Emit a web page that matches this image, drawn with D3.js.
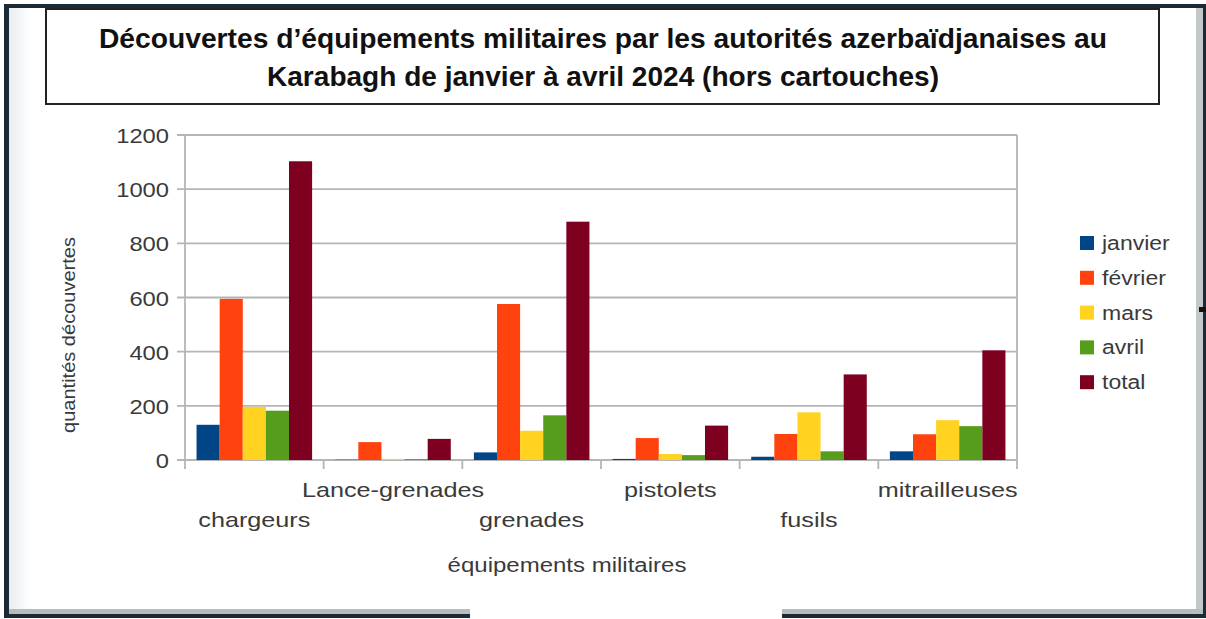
<!DOCTYPE html>
<html>
<head>
<meta charset="utf-8">
<script src="https://cdn.jsdelivr.net/npm/d3@7"></script>
<style>
  body { margin: 0; background: #fff; }
  text { font-family: "Liberation Sans", Arial, sans-serif; }
</style>
</head>
<body>
<div id="chart"></div>
<script>
// Data
const categories = ["chargeurs", "Lance-grenades", "grenades", "pistolets", "fusils", "mitrailleuses"];
const series = ["janvier", "février", "mars", "avril", "total"];
const janvier = [130, 1, 28, 4, 12, 32];
const fevrier = [595, 66, 576, 81, 96, 95];
const mars = [196, 4, 108, 22, 176, 147];
const avril = [182, 3, 165, 18, 32, 125];
const total = [1103, 78, 880, 127, 316, 405];
const yTicks = [0, 200, 400, 600, 800, 1000, 1200];
const colors = ["#004586", "#ff420e", "#ffd320", "#579d1c", "#7e0021"];
const titleLines = [
    "Découvertes d’équipements militaires par les autorités azerbaïdjanaises au",
    "Karabagh de janvier à avril 2024 (hors cartouches)"
];

const values = [janvier, fevrier, mars, avril, total];
const rows = categories.map((c, i) => ({
    cat: c,
    vals: series.map((s, j) => ({ key: s, value: values[j][i] }))
}));

const width = 1206, height = 619;
const svg = d3.select("#chart").append("svg")
    .attr("width", width)
    .attr("height", height);

// stretch text horizontally (the source picture is a bit widened)
function stretch(sel, k) {
    sel.each(function () {
        const w = this.getComputedTextLength();
        this.setAttribute("textLength", w * k);
        this.setAttribute("lengthAdjust", "spacingAndGlyphs");
    });
}

// ---- screenshot frame ----
const defs = svg.append("defs");
const grad = defs.append("linearGradient").attr("id", "shadeL").attr("x1", 0).attr("x2", 1);
grad.append("stop").attr("offset", 0).attr("stop-color", "#e9edf0");
grad.append("stop").attr("offset", 1).attr("stop-color", "#ffffff");
svg.append("rect").attr("x", 9).attr("y", 8).attr("width", 22).attr("height", 602).attr("fill", "url(#shadeL)");
svg.append("rect").attr("x", 1196).attr("y", 8).attr("width", 7).attr("height", 606).attr("fill", "#c3c8cb");
svg.append("rect").attr("x", 9).attr("y", 609).attr("width", 1194).attr("height", 5).attr("fill", "#b7bcbf");
svg.append("rect").attr("x", 4).attr("y", 4).attr("width", 1199).attr("height", 4).attr("fill", "#1b2a34");
svg.append("rect").attr("x", 4).attr("y", 4).attr("width", 5).attr("height", 614).attr("fill", "#1b2a34");
svg.append("rect").attr("x", 1203).attr("y", 4).attr("width", 3).attr("height", 614).attr("fill", "#1b2a34");
svg.append("rect").attr("x", 4).attr("y", 614).attr("width", 1202).attr("height", 4).attr("fill", "#1b2a34");
svg.append("rect").attr("x", 470).attr("y", 608).attr("width", 312).attr("height", 11).attr("fill", "#fff");
svg.append("rect").attr("x", 1199).attr("y", 307).attr("width", 7).attr("height", 5).attr("fill", "#111");

// ---- title box ----
svg.append("rect")
    .attr("x", 46).attr("y", 9).attr("width", 1113).attr("height", 95)
    .attr("fill", "#fff").attr("stroke", "#222").attr("stroke-width", 2);

const titleLen = [1008, 672];
svg.selectAll(".title").data(titleLines).join("text")
    .attr("class", "title")
    .attr("x", 603)
    .attr("y", (d, i) => 48 + i * 38)
    .attr("text-anchor", "middle")
    .attr("font-family", "Roboto, 'DejaVu Sans', sans-serif")
    .attr("font-weight", "bold")
    .attr("font-size", 28)
    .attr("fill", "#111")
    .attr("textLength", (d, i) => titleLen[i])
    .attr("lengthAdjust", "spacingAndGlyphs")
    .text(d => d);

// ---- scales ----
const plot = { left: 185, right: 1017, top: 135, bottom: 460 };
const x0 = d3.scaleBand().domain(categories).range([plot.left, plot.right]).paddingInner(0).paddingOuter(0);
const x1 = d3.scaleBand().domain(series).range([0, x0.bandwidth()]).paddingInner(0).paddingOuter(0.5);
const y = d3.scaleLinear().domain([0, 1200]).range([plot.bottom, plot.top]);
const color = d3.scaleOrdinal().domain(series).range(colors);

const gridColor = "#b5b5b5";

// gridlines + y ticks
svg.append("g").selectAll("line").data(yTicks).join("line")
    .attr("x1", plot.left - 8).attr("x2", plot.right)
    .attr("y1", d => y(d)).attr("y2", d => y(d))
    .attr("stroke", gridColor).attr("stroke-width", 1.8);

// axis frame lines
svg.append("line").attr("x1", plot.left).attr("x2", plot.left)
    .attr("y1", plot.top).attr("y2", plot.bottom + 9)
    .attr("stroke", gridColor).attr("stroke-width", 1.8);
svg.append("line").attr("x1", plot.right).attr("x2", plot.right)
    .attr("y1", plot.top).attr("y2", plot.bottom + 9)
    .attr("stroke", gridColor).attr("stroke-width", 1.8);

// x ticks at category boundaries
svg.append("g").selectAll("line").data(categories.slice(1)).join("line")
    .attr("x1", d => x0(d)).attr("x2", d => x0(d))
    .attr("y1", plot.bottom).attr("y2", plot.bottom + 9)
    .attr("stroke", gridColor).attr("stroke-width", 1.8);

// y tick labels
svg.append("g").selectAll("text").data(yTicks).join("text")
    .attr("x", 169)
    .attr("y", d => y(d) + 8)
    .attr("text-anchor", "end")
    .attr("font-size", 21)
    .attr("fill", "#3a3a3a")
    .text(d => d)
    .call(stretch, 1.13);

// ---- bars ----
const groups = svg.append("g").selectAll("g").data(rows).join("g")
    .attr("transform", d => `translate(${x0(d.cat)},0)`);
groups.selectAll("rect").data(d => d.vals).join("rect")
    .attr("x", d => x1(d.key))
    .attr("width", x1.bandwidth())
    .attr("y", d => y(d.value))
    .attr("height", d => y(0) - y(d.value))
    .attr("fill", d => color(d.key));

// ---- x labels (staggered) ----
svg.append("g").selectAll("text").data(categories).join("text")
    .attr("x", d => x0(d) + x0.bandwidth() / 2)
    .attr("y", (d, i) => i % 2 === 0 ? 527 : 497)
    .attr("text-anchor", "middle")
    .attr("font-size", 21)
    .attr("fill", "#3a3a3a")
    .text(d => d)
    .call(stretch, 1.2);

// axis titles
svg.append("text")
    .attr("x", 567).attr("y", 572)
    .attr("text-anchor", "middle")
    .attr("font-size", 20)
    .attr("fill", "#3a3a3a")
    .text("équipements militaires")
    .call(stretch, 1.2);

svg.append("text")
    .attr("transform", "translate(75,335) rotate(-90)")
    .attr("text-anchor", "middle")
    .attr("font-size", 18)
    .attr("fill", "#3a3a3a")
    .attr("textLength", 196)
    .attr("lengthAdjust", "spacingAndGlyphs")
    .text("quantités découvertes");

// ---- legend ----
const legend = svg.append("g").selectAll("g").data(series).join("g")
    .attr("transform", (d, i) => `translate(1080,${243 + i * 34.8})`);
legend.append("rect")
    .attr("x", 0).attr("y", -7)
    .attr("width", 14).attr("height", 14)
    .attr("fill", d => color(d));
legend.append("text")
    .attr("x", 22).attr("y", 7)
    .attr("font-size", 20)
    .attr("fill", "#3a3a3a")
    .text(d => d)
    .call(stretch, 1.15);
</script>
</body>
</html>
